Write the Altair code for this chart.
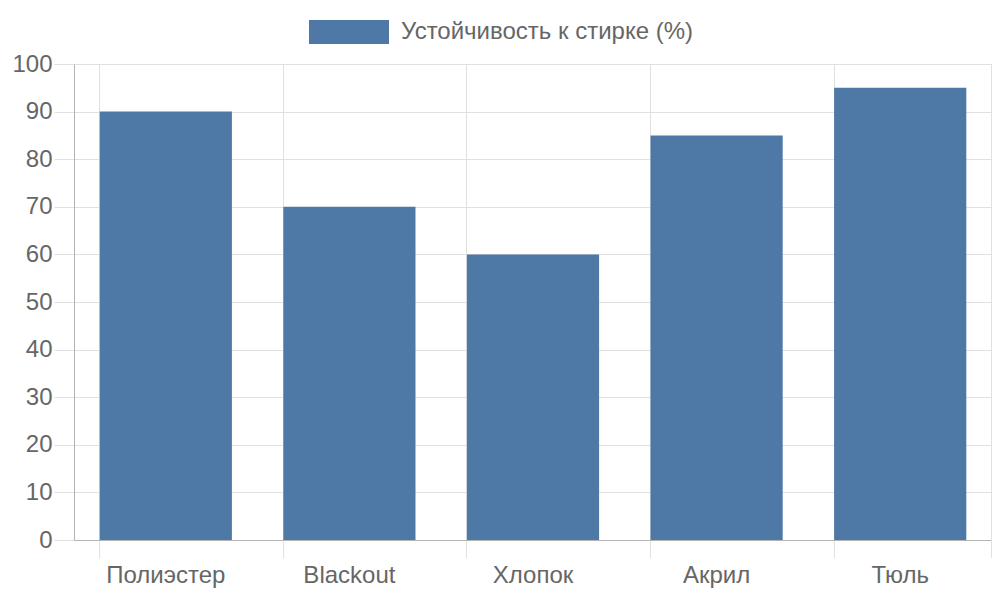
import pandas as pd
import altair as alt

# ------------------------------------------------------------
# Data
# ------------------------------------------------------------

fabrics = ["Полиэстер", "Blackout", "Хлопок", "Акрил", "Тюль"]
wash_resistance = [90, 70, 60, 85, 95]
series_name = "Устойчивость к стирке (%)"

df = pd.DataFrame({
    "fabric": fabrics,
    "value": wash_resistance,
    "series": [series_name] * len(fabrics),
})

FONT = "Liberation Sans"
TEXT = "#666666"
GRID = "#e0e0e0"
AXIS = "#b3b3b3"

# ------------------------------------------------------------
# Bars
# ------------------------------------------------------------

bars = (
    alt.Chart(df)
      .mark_bar(color="#4e79a7")
      .encode(
          x=alt.X(
              "fabric:N",
              sort=fabrics,
              title=None,
              scale=alt.Scale(paddingInner=0.28, paddingOuter=0.14),
              axis=alt.Axis(
                  labelAngle=0,
                  bandPosition=0,
                  grid=True,
                  gridColor=GRID,
                  tickColor=GRID,
                  tickSize=18,
                  domainColor=AXIS,
                  labelPadding=5,
              ),
          ),
          y=alt.Y(
              "value:Q",
              title=None,
              scale=alt.Scale(domain=[0, 100]),
              axis=alt.Axis(
                  values=list(range(0, 101, 10)),
                  grid=True,
                  gridColor=GRID,
                  tickColor=GRID,
                  tickSize=20,
                  domainColor=AXIS,
                  labelPadding=2,
              ),
          ),
          color=alt.Color(
              "series:N",
              title=None,
              scale=alt.Scale(range=["#4e79a7"]),
              legend=alt.Legend(
                  orient="none",
                  legendX=235,
                  legendY=-72,
                  symbolType="M-1,-0.3H1V0.3H-1Z",
                  symbolSize=6400,
                  symbolStrokeWidth=0,
                  symbolOpacity=1,
                  labelOffset=12,
                  labelFontSize=24,
                  labelLimit=500,
                  labelColor=TEXT,
                  labelFont=FONT,
                  padding=0,
              ),
          ),
      )
)

# right edge line of the grid (last category boundary)
right_edge = (
    alt.Chart(df)
      .mark_rule(color=GRID)
      .encode(x=alt.value(918), y=alt.value(0), y2=alt.value(494))
)

chart = (
    alt.layer(bars, right_edge)
      .properties(
          width=918,
          height=476,
          autosize=alt.AutoSizeParams(type="none"),
          padding={"left": 66, "top": 56, "right": 0, "bottom": 50},
      )
      .configure_axis(
          labelFont=FONT,
          labelFontSize=24,
          labelColor=TEXT,
          domainWidth=1,
      )
      .configure_view(stroke=None)
)

chart.save("out.html", embed_options={"renderer": "svg", "actions": False})
